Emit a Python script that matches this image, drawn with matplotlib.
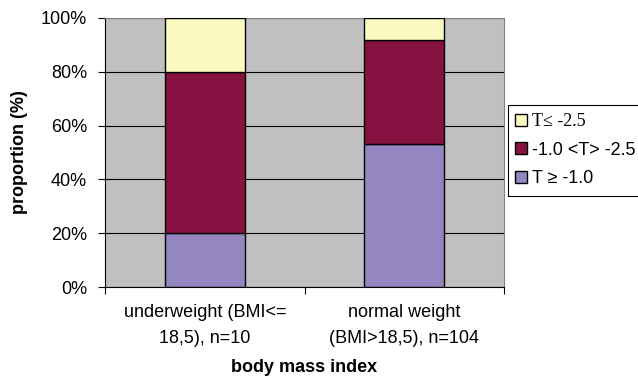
import matplotlib.pyplot as plt
from matplotlib.patches import Rectangle
import numpy as np

# data (percent of each BMI group)
groups = ['underweight (BMI<=\n18,5), n=10', 'normal weight\n(BMI>18,5), n=104']
t_high = [20, 53]      # T >= -1.0
t_mid = [60, 39]       # -1.0 <T> -2.5
t_low = [20, 8]        # T <= -2.5
yticks = [0, 20, 40, 60, 80, 100]

plt.rcParams['font.family'] = ['Liberation Sans', 'DejaVu Sans']

W, H = 638, 383
fig = plt.figure(figsize=(W / 100, H / 100), dpi=100)
ax = fig.add_axes([105 / W, 1 - 287 / H, 399 / W, 269 / H])
ax.set_facecolor('#C0C0C0')

x = np.arange(len(groups))
w = 0.4
b1 = ax.bar(x, t_high, w, color='#9486C1', edgecolor='black', lw=1, zorder=3,
            label='T ≥ -1.0')
b2 = ax.bar(x, t_mid, w, bottom=t_high, color='#861241', edgecolor='black', lw=1,
            zorder=3, label='-1.0 <T> -2.5')
bottom2 = np.array(t_high) + np.array(t_mid)
b3 = ax.bar(x, t_low, w, bottom=bottom2, color='#FBFBC0', edgecolor='black', lw=1,
            zorder=3, label='T≤ -2.5')

ax.set_xlim(-0.5, 1.5)
ax.set_ylim(0, 100)
ax.set_yticks(yticks)
ax.set_yticklabels([f'{v}%' for v in yticks], fontsize=13)
ax.yaxis.grid(True, color='black', lw=0.8, zorder=0)
ax.set_axisbelow(True)

# category ticks on the boundaries, labels centred
ax.set_xticks([-0.5, 0.5, 1.5])
ax.set_xticklabels([])
ax.set_xticks(x, minor=True)
ax.set_xticklabels(groups, minor=True, fontsize=13, linespacing=1.7)
ax.tick_params(axis='x', which='minor', length=0, pad=12)
ax.tick_params(axis='x', which='major', length=5, direction='out', color='black')
ax.tick_params(axis='y', length=5, direction='out', color='black', pad=8)

for s in ['top', 'right']:
    ax.spines[s].set_color('#808080')
for s in ['left', 'bottom']:
    ax.spines[s].set_color('black')

ax.set_xlabel('body mass index', fontsize=13, fontweight='bold', labelpad=9)
ax.set_ylabel('proportion (%)', fontsize=13, fontweight='bold', labelpad=9)

# legend: frame drawn separately, it runs off the right edge like the original
fig.patches.append(Rectangle((508 / W, 1 - 196 / H), 140 / W, 91 / H,
                             transform=fig.transFigure, fill=False,
                             edgecolor='black', lw=0.8))
handles = [b3, b2, b1]
leg = fig.legend(handles, [h.get_label() for h in handles],
                 loc='upper left', bbox_to_anchor=(515 / W, 1 - 113 / H),
                 fontsize=13, frameon=False,
                 handlelength=0.67, handleheight=0.67, handletextpad=0.28,
                 labelspacing=0.64, borderpad=0, borderaxespad=0)
leg.get_texts()[0].set_family(['Liberation Serif', 'DejaVu Serif'])

fig.savefig('out.png', dpi=100)
